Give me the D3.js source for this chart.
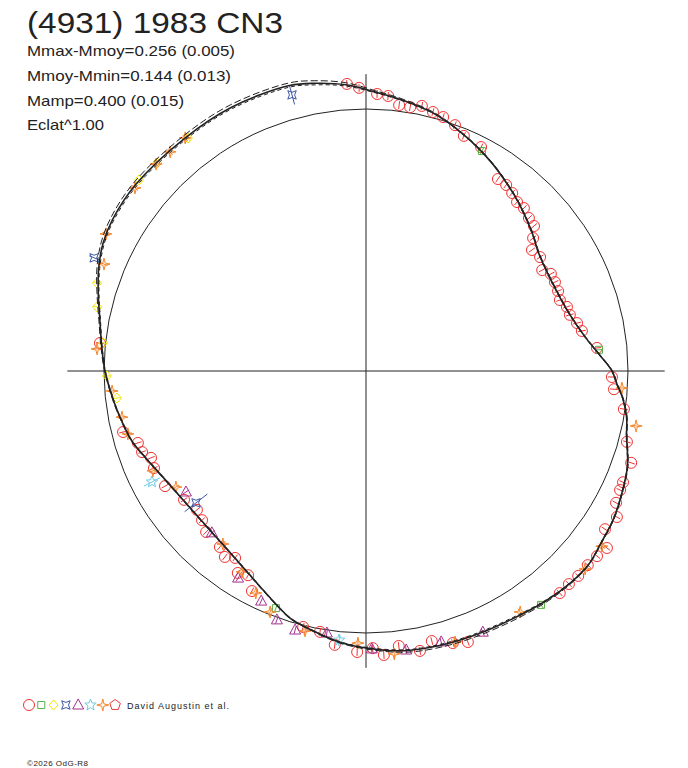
<!DOCTYPE html>
<html>
<head>
<meta charset="utf-8">
<script src="https://cdn.jsdelivr.net/npm/d3@7"></script>
<style>
body { margin: 0; background: #fff; }
svg { display: block; font-family: "Liberation Sans", Arial, sans-serif; }
</style>
</head>
<body>
<svg id="chart" width="688" height="768"></svg>
<script>
// Header texts
const titleText = '(4931) 1983 CN3';
const infoLines = ['Mmax-Mmoy=0.256 (0.005)', 'Mmoy-Mmin=0.144 (0.013)', 'Mamp=0.400 (0.015)', 'Eclat^1.00'];
const authorText = 'David Augustin et al.';
const copyText = '\u00a92026 OdG-R8';

// Fitted model: rotation phase (deg) and relative radius (1 = mean brightness circle)
const modelAngle = [0, 4, 9, 16, 22, 28, 34, 40, 48, 56, 61, 67, 75, 82, 88, 94, 100, 105, 117, 128, 141, 149, 154, 159, 164, 169, 175, 180, 187, 192, 197, 202, 208, 214, 220, 226, 232, 238, 244, 249, 253, 258, 264, 270, 278, 285, 292, 300, 308, 314, 319, 324, 329, 334, 340, 346, 350, 354, 357];
const modelRadius = [0.939, 0.893, 0.845, 0.805, 0.790, 0.787, 0.797, 0.826, 0.868, 0.912, 0.940, 0.973, 1.016, 1.042, 1.065, 1.095, 1.115, 1.128, 1.130, 1.126, 1.131, 1.127, 1.116, 1.093, 1.063, 1.035, 1.012, 0.996, 0.969, 0.950, 0.931, 0.901, 0.873, 0.856, 0.849, 0.851, 0.862, 0.884, 0.918, 0.955, 0.987, 1.010, 1.038, 1.057, 1.078, 1.085, 1.090, 1.098, 1.114, 1.124, 1.126, 1.111, 1.101, 1.084, 1.062, 1.025, 1.010, 0.985, 0.959];
// uncertainty of the model (relative radius), larger where data are sparse
const modelSpread = [0.002, 0.002, 0.002, 0.002, 0.002, 0.002, 0.002, 0.002, 0.002, 0.002, 0.002, 0.002, 0.003, 0.004, 0.005, 0.008, 0.010, 0.010, 0.010, 0.010, 0.010, 0.009, 0.008, 0.007, 0.005, 0.004, 0.003, 0.002, 0.002, 0.002, 0.002, 0.002, 0.002, 0.002, 0.002, 0.002, 0.002, 0.002, 0.002, 0.002, 0.002, 0.002, 0.003, 0.004, 0.006, 0.007, 0.007, 0.007, 0.005, 0.003, 0.002, 0.002, 0.002, 0.002, 0.002, 0.002, 0.002, 0.002, 0.002];

// Observations, one pair of arrays per session (phase deg, relative radius)
const redAngle = [93.8, 91.4, 87.7, 85.4, 82.9, 80.5, 78.1, 75.5, 73.1, 70.1, 67.4, 62.8, 55.5, 53.0, 50.6, 48.2, 45.9, 43.2, 40.8, 38.5, 36.1, 33.2, 29.8, 27.7, 25.2, 22.6, 20.1, 17.7, 15.4, 12.8, 10.5, 5.7, 358.6, 355.8, 351.6, 344.8, 340.9, 336.6, 334.9, 332.2, 329.8, 326.5, 323.7, 321.3, 318.8, 316.0, 313.6, 311.1, 290.6, 287.7, 283.7, 280.9, 276.8, 273.6, 271.4, 268.2, 263.5, 260.0, 256.2, 242.6, 240.0, 237.6, 235.0, 232.8, 230.3, 225.2, 222.3, 219.4, 215.3, 209.8, 204.6, 202.0, 199.9, 197.5, 194.1, 174.0];
const redRadius = [1.098, 1.081, 1.058, 1.053, 1.023, 1.021, 1.034, 1.021, 1.013, 0.998, 0.972, 0.961, 0.889, 0.889, 0.879, 0.865, 0.866, 0.853, 0.847, 0.815, 0.784, 0.794, 0.775, 0.797, 0.797, 0.794, 0.788, 0.805, 0.807, 0.826, 0.838, 0.886, 0.939, 0.949, 0.995, 1.032, 1.071, 1.069, 1.071, 1.079, 1.108, 1.094, 1.141, 1.130, 1.125, 1.126, 1.123, 1.125, 1.105, 1.090, 1.061, 1.088, 1.057, 1.086, 1.058, 1.073, 1.052, 1.011, 1.006, 0.946, 0.900, 0.913, 0.871, 0.891, 0.873, 0.866, 0.846, 0.835, 0.851, 0.884, 0.890, 0.885, 0.909, 0.913, 0.956, 1.021];

const greenAngle = [62.2, 5.2, 306.8, 249.2];
const greenRadius = [0.949, 0.893, 1.115, 0.968];

const yellowAngle = [127.4, 135.1, 139.9, 161.9, 166.6, 173.9, 181.1, 186.2];
const yellowRadius = [1.119, 1.125, 1.132, 1.080, 1.055, 1.009, 0.989, 0.956];

const blueAngle = [105.0, 157.4, 217.8];
const blueRadius = [1.091, 1.124, 0.821];
const blueError = [0.038, 0.02, 0.055];

const purpleAngle = [213.9, 226.4, 238.3, 245.5, 250.3, 254.7, 261.5, 271.2, 278.2, 285.5, 294.1];
const purpleRadius = [0.828, 0.853, 0.929, 0.965, 1.009, 1.025, 1.011, 1.061, 1.076, 1.073, 1.092];

const cyanAngle = [207.4, 264.3];
const cyanRadius = [0.920, 1.032];
const cyanError = [0.035, 0.022];

const orangeAngle = [127.8, 131.8, 135.4, 141.6, 152.2, 157.8, 175.3, 184.5, 190.7, 194.8, 205.1, 211.4, 230.4, 238.3, 243.6, 248.3, 256.8, 268.3, 275.7, 288.2, 302.6, 317.9, 323.4, 356.2, 348.5];
const orangeRadius = [1.126, 1.122, 1.125, 1.125, 1.122, 1.080, 1.030, 0.972, 0.948, 0.940, 0.898, 0.850, 0.857, 0.901, 0.946, 0.990, 1.019, 1.039, 1.085, 1.089, 1.092, 1.127, 1.121, 0.979, 1.052];

const cx = 366, cy = 371, R = 262;
const axisExtent = 1.14;

const svg = d3.select('#chart');

// Radial scale: relative radius -> pixels; angle scale: phase (ccw from east) -> d3 radial angle
const rScale = d3.scaleLinear().domain([0, 1]).range([0, R]);
const aScale = d3.scaleLinear().domain([0, 360]).range([Math.PI / 2, Math.PI / 2 - 2 * Math.PI]);

function polarX(a, r) { return rScale(r) * Math.sin(aScale(a)); }
function polarY(a, r) { return -rScale(r) * Math.cos(aScale(a)); }

// Marker shapes (outlines)
function starPath(points, outer, inner, rot) {
    const pts = [];
    for (let i = 0; i < points * 2; i++) {
        const rr = i % 2 === 0 ? outer : inner;
        const t = rot + i * Math.PI / points;
        pts.push([rr * Math.sin(t), -rr * Math.cos(t)]);
    }
    return 'M' + pts.map(p => p[0].toFixed(2) + ',' + p[1].toFixed(2)).join('L') + 'Z';
}
function polyPath(n, rad) {
    const pts = d3.range(n).map(i => {
        const t = i * 2 * Math.PI / n;
        return [rad * Math.sin(t), -rad * Math.cos(t)];
    });
    return 'M' + pts.map(p => p[0].toFixed(2) + ',' + p[1].toFixed(2)).join('L') + 'Z';
}
const shapes = {
    circle: d3.symbol(d3.symbolCircle, Math.PI * 5.5 * 5.5)(),
    square: 'M-3.5,-3.5L3.5,-3.5L3.5,3.5L-3.5,3.5Z',
    diamond: 'M0,-5L4.5,0L0,5L-4.5,0Z',
    cross: starPath(4, 6, 2.6, Math.PI / 4),
    triangle: 'M0,-6L5.5,4L-5.5,4Z',
    star: starPath(5, 6, 2.6, 0),
    spark: starPath(4, 6, 1.6, 0),
    pentagon: polyPath(5, 5.5)
};

const sessions = [
    { shape: 'circle', color: '#f03232', angle: redAngle, radius: redRadius },
    { shape: 'square', color: '#5cb04a', angle: greenAngle, radius: greenRadius },
    { shape: 'diamond', color: '#f2e400', angle: yellowAngle, radius: yellowRadius },
    { shape: 'cross', color: '#3d56a6', angle: blueAngle, radius: blueRadius, error: blueError },
    { shape: 'triangle', color: '#a3318c', angle: purpleAngle, radius: purpleRadius },
    { shape: 'star', color: '#6ccbe2', angle: cyanAngle, radius: cyanRadius, error: cyanError },
    { shape: 'spark', color: '#f5862b', angle: orangeAngle, radius: orangeRadius },
    { shape: 'pentagon', color: '#e8383b', angle: [], radius: [] }
];

const plot = svg.append('g').attr('transform', `translate(${cx},${cy})`);

// mean brightness circle
plot.append('circle')
    .attr('r', rScale(1))
    .attr('fill', 'none')
    .attr('stroke', '#222')
    .attr('stroke-width', 1);

// cross hair axes
plot.append('line')
    .attr('x1', -rScale(axisExtent)).attr('x2', rScale(axisExtent))
    .attr('y1', 0).attr('y2', 0)
    .attr('stroke', '#222').attr('stroke-width', 1);
plot.append('line')
    .attr('x1', 0).attr('x2', 0)
    .attr('y1', -rScale(axisExtent - 0.007)).attr('y2', rScale(axisExtent - 0.007))
    .attr('stroke', '#222').attr('stroke-width', 1);

// observations
sessions.forEach((s, si) => {
    const pts = s.angle.map((a, i) => ({ a: a, r: s.radius[i], e: s.error ? s.error[i] : 0.015 }));
    const g = plot.append('g').attr('class', 'session-' + si);
    // error bars along the radius
    g.selectAll('line')
        .data(pts)
        .enter()
        .append('line')
        .attr('x1', d => polarX(d.a, d.r - d.e))
        .attr('y1', d => polarY(d.a, d.r - d.e))
        .attr('x2', d => polarX(d.a, d.r + d.e))
        .attr('y2', d => polarY(d.a, d.r + d.e))
        .attr('stroke', s.color)
        .attr('stroke-width', 1);
    g.selectAll('path')
        .data(pts)
        .enter()
        .append('path')
        .attr('d', shapes[s.shape])
        .attr('transform', d => `translate(${polarX(d.a, d.r)},${polarY(d.a, d.r)})`)
        .attr('fill', 'none')
        .attr('stroke', s.color)
        .attr('stroke-width', 1);
});

// model curves
const model = modelAngle.map((a, i) => ({ a: a, r: modelRadius[i], s: modelSpread[i] }));
const radialLine = d3.lineRadial()
    .angle(d => aScale(d.a))
    .curve(d3.curveCatmullRomClosed.alpha(0.5));

plot.append('path')
    .attr('d', radialLine.radius(d => rScale(d.r + d.s))(model))
    .attr('fill', 'none')
    .attr('stroke', '#222')
    .attr('stroke-width', 1)
    .attr('stroke-dasharray', '7,3');
plot.append('path')
    .attr('d', radialLine.radius(d => rScale(d.r - d.s * 0.6))(model))
    .attr('fill', 'none')
    .attr('stroke', '#222')
    .attr('stroke-width', 1)
    .attr('stroke-dasharray', '4,3');
plot.append('path')
    .attr('d', radialLine.radius(d => rScale(d.r))(model))
    .attr('fill', 'none')
    .attr('stroke', '#222')
    .attr('stroke-width', 1.6);

// header
svg.append('text')
    .attr('x', 27).attr('y', 33)
    .attr('font-size', 30)
    .attr('fill', '#222')
    .attr('textLength', 256)
    .attr('lengthAdjust', 'spacingAndGlyphs')
    .text(titleText);

const infoWidths = [208, 204, 157, 77];
svg.selectAll('text.info')
    .data(infoLines)
    .enter()
    .append('text')
    .attr('class', 'info')
    .attr('x', 27)
    .attr('y', (d, i) => 56 + i * 24.8)
    .attr('font-size', 15)
    .attr('fill', '#222')
    .attr('textLength', (d, i) => infoWidths[i])
    .attr('lengthAdjust', 'spacingAndGlyphs')
    .text(d => d);

// legend
const legend = svg.append('g').attr('transform', 'translate(29,705)');
legend.selectAll('path')
    .data(sessions)
    .enter()
    .append('path')
    .attr('d', d => shapes[d.shape])
    .attr('transform', (d, i) => `translate(${i * 12.3},0)`)
    .attr('fill', 'none')
    .attr('stroke', d => d.color)
    .attr('stroke-width', 1);
legend.append('text')
    .attr('x', 98).attr('y', 3.5)
    .attr('font-size', 9)
    .attr('fill', '#222')
    .attr('textLength', 102)
    .attr('lengthAdjust', 'spacing')
    .text(authorText);

svg.append('text')
    .attr('x', 27).attr('y', 766)
    .attr('font-size', 8)
    .attr('fill', '#222')
    .attr('textLength', 61)
    .attr('lengthAdjust', 'spacing')
    .text(copyText);
</script>
</body>
</html>
